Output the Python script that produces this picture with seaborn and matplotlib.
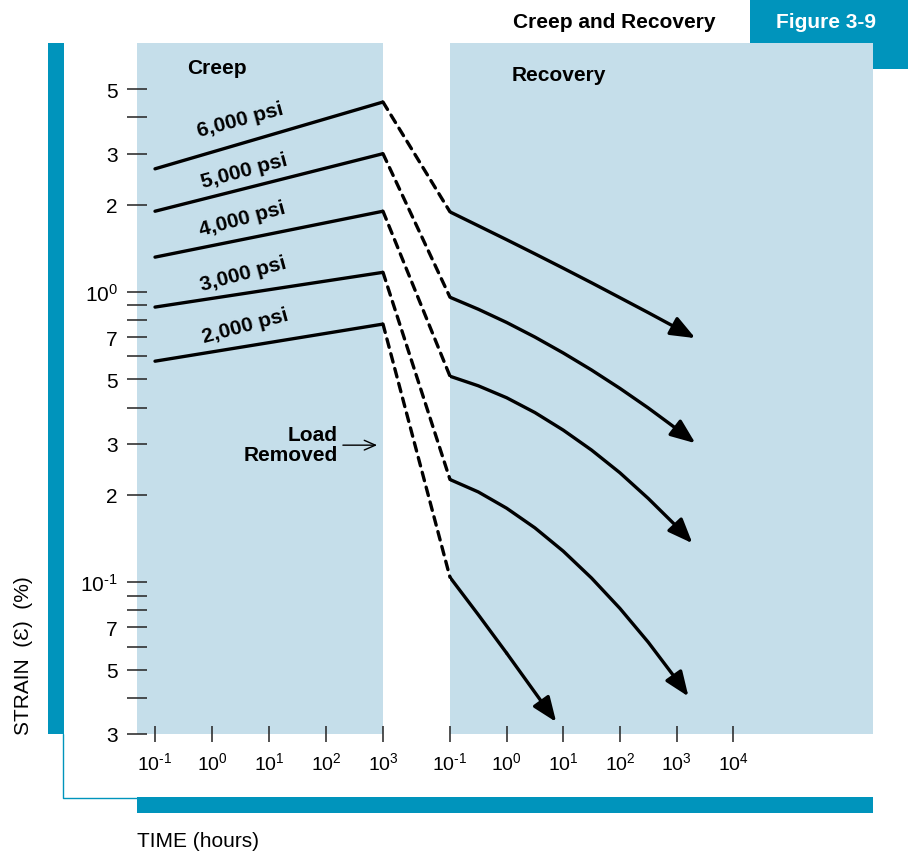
import numpy as np
import matplotlib
matplotlib.use("Agg")
import matplotlib.pyplot as plt
import seaborn as sns
from matplotlib.patches import Rectangle, ConnectionPatch
from matplotlib.lines import Line2D

# ---------------- data ----------------
stress_labels = ["2,000 psi", "3,000 psi", "4,000 psi", "5,000 psi", "6,000 psi"]
creep_t = [0.1, 1000]
creep_start = [0.578, 0.888, 1.32, 1.90, 2.66]
creep_end = [0.776, 1.17, 1.90, 3.00, 4.52]

rec_t_6000 = [0.1, 0.316, 1, 3.16, 10, 31.6, 100, 316, 1000, 2150]
rec_s_6000 = [1.89, 1.693, 1.516, 1.355, 1.209, 1.077, 0.957, 0.850, 0.753, 0.694]
rec_t_5000 = [0.1, 0.316, 1, 3.16, 10, 31.6, 100, 316, 1000, 2150]
rec_s_5000 = [0.96, 0.873, 0.786, 0.700, 0.617, 0.539, 0.466, 0.399, 0.338, 0.3015]
rec_t_4000 = [0.1, 0.316, 1, 3.16, 10, 31.6, 100, 316, 1000, 1910]
rec_s_4000 = [0.513, 0.4755, 0.4325, 0.3845, 0.3345, 0.2855, 0.2385, 0.1946, 0.1559, 0.1363]
rec_t_3000 = [0.1, 0.316, 1, 3.16, 10, 31.6, 100, 316, 1000, 1625]
rec_s_3000 = [0.226, 0.2048, 0.1800, 0.1540, 0.1280, 0.1034, 0.0813, 0.0622, 0.0462, 0.0404]
rec_t_2000 = [0.1, 0.316, 1, 7.5]
rec_s_2000 = [0.104, 0.0773, 0.057, 0.033]

ytick_vals = [0.03, 0.04, 0.05, 0.06, 0.07, 0.08, 0.09, 0.1, 0.2, 0.3, 0.4,
              0.5, 0.6, 0.7, 0.8, 0.9, 1, 2, 3, 4, 5]
ytick_labels = ["3", "", "5", "", "7", "", "", r"10$^{\text{-}1}$", "2", "3", "",
                "5", "", "7", "", "", "10$^{0}$", "2", "3", "", "5"]
xticks_creep = [0.1, 1, 10, 100, 1000]
xticks_rec = [0.1, 1, 10, 100, 1000, 10000]
xtick_labels_creep = [r"10$^{\text{-}1}$", "10$^{0}$", "10$^{1}$", "10$^{2}$", "10$^{3}$"]
xtick_labels_rec = [r"10$^{\text{-}1}$", "10$^{0}$", "10$^{1}$", "10$^{2}$", "10$^{3}$", "10$^{4}$"]

# ---------------- style ----------------
sns.set_style("white")
plt.rcParams["font.family"] = ["Liberation Sans", "DejaVu Sans"]
plt.rcParams["mathtext.fontset"] = "custom"
plt.rcParams["mathtext.rm"] = "Liberation Sans"
plt.rcParams["mathtext.it"] = "Liberation Sans:italic"
plt.rcParams["mathtext.bf"] = "Liberation Sans:bold"
for k in ["text.color", "axes.labelcolor", "xtick.color", "ytick.color"]:
    plt.rcParams[k] = "black"

SHADE = "#c5deea"
BLUE = "#0094bc"
W, H = 908, 853
fig = plt.figure(figsize=(W / 100, H / 100), dpi=100)

def fx(px):
    return px / W

def fy(py):
    return (H - py) / H

ax1 = fig.add_axes([fx(137), fy(735), fx(383) - fx(137), fy(44) - fy(735)])
ax2 = fig.add_axes([fx(450), fy(735), fx(873) - fx(450), fy(44) - fy(735)])

for ax in (ax1, ax2):
    ax.set_facecolor(SHADE)
    ax.set_xscale("log")
    ax.set_yscale("log")
    ax.set_ylim(0.03, 7.22)
    for s in ax.spines.values():
        s.set_visible(False)
    ax.minorticks_off()

ax1.set_xlim(10 ** -1.316, 1000)
ax2.set_xlim(0.1, 10 ** 6.47)

LW = 2.4
for s0, s1 in zip(creep_start, creep_end):
    sns.lineplot(x=creep_t, y=[s0, s1], ax=ax1, color="black", lw=LW,
                 estimator=None, sort=False, legend=False)

rec_sets = [(rec_t_2000, rec_s_2000), (rec_t_3000, rec_s_3000),
            (rec_t_4000, rec_s_4000), (rec_t_5000, rec_s_5000),
            (rec_t_6000, rec_s_6000)]
for t, s in rec_sets:
    sns.lineplot(x=t[:-1], y=s[:-1], ax=ax2, color="black", lw=LW,
                 estimator=None, sort=False, legend=False)
    ax2.lines[-1].set_solid_joinstyle("round")
    ax2.annotate("", xy=(t[-1], s[-1]), xytext=(t[-2], s[-2]),
                 arrowprops=dict(arrowstyle="-|>,head_length=1.5,head_width=0.6",
                                 mutation_scale=10, lw=LW, color="black",
                                 shrinkA=0, shrinkB=0))

for i, (t, s) in enumerate(rec_sets):
    con = ConnectionPatch(xyA=(creep_t[-1], creep_end[i]), coordsA="data", axesA=ax1,
                          xyB=(t[0], s[0]), coordsB="data", axesB=ax2,
                          color="black", lw=LW, linestyle=(0, (2.6, 2.0)))
    fig.add_artist(con)

ax1.set_yticks(ytick_vals)
ax1.set_yticklabels(ytick_labels)
ax1.tick_params(axis="y", which="major", direction="inout", length=14.4, width=1.1,
                color="#222222", labelsize=15, pad=6.5, left=True)
ax2.set_yticks([])
ax1.set_xticks(xticks_creep)
ax1.set_xticklabels(xtick_labels_creep)
ax2.set_xticks(xticks_rec)
ax2.set_xticklabels(xtick_labels_rec)
for ax in (ax1, ax2):
    ax.tick_params(axis="x", which="major", direction="inout", length=12.2, width=1.1,
                   color="#222222", labelsize=14, pad=6, bottom=True)
    ax.tick_params(which="minor", length=0)

label_pos = [(0.439, 0.591), (0.431, 0.666), (0.427, 0.746), (0.435, 0.815), (0.419, 0.890)]
for lab, (px, py) in zip(stress_labels, label_pos):
    ax1.text(px, py, lab, transform=ax1.transAxes, rotation=15, rotation_mode="anchor",
             ha="center", va="center", fontsize=15, fontweight="bold")

ax1.text(0.325, 0.965, "Creep", transform=ax1.transAxes, ha="center", va="center",
         fontsize=15, fontweight="bold")
ax2.text(0.258, 0.955, "Recovery", transform=ax2.transAxes, ha="center", va="center",
         fontsize=15, fontweight="bold")
ax1.text(0.817, 0.419, "Load\nRemoved", transform=ax1.transAxes, ha="right", va="center",
         fontsize=15, fontweight="bold", linespacing=1.12)
ax1.annotate("", xy=(0.976, 0.418), xytext=(0.837, 0.418), xycoords="axes fraction",
             textcoords="axes fraction",
             arrowprops=dict(arrowstyle="->,head_length=0.8,head_width=0.35",
                             lw=1.0, color="black", shrinkA=0, shrinkB=0))

fig.add_artist(Rectangle((fx(750), fy(70)), fx(908) - fx(750), fy(0) - fy(70),
                         transform=fig.transFigure, facecolor=BLUE, edgecolor="none",
                         zorder=-1))
fig.add_artist(Rectangle((fx(48), fy(735)), fx(64) - fx(48), fy(44) - fy(735),
                         transform=fig.transFigure, facecolor=BLUE, edgecolor="none"))
fig.add_artist(Rectangle((fx(137), fy(814)), fx(873) - fx(137), fy(798) - fy(814),
                         transform=fig.transFigure, facecolor=BLUE, edgecolor="none"))
fig.add_artist(Line2D([fx(63), fx(63), fx(137)], [fy(735), fy(799), fy(799)],
                      transform=fig.transFigure, color=BLUE, lw=1.0))

fig.text(fx(614.5), fy(22), "Creep and Recovery", ha="center", va="center",
         fontsize=15, fontweight="bold")
fig.text(fx(826), fy(22), "Figure 3-9", ha="center", va="center",
         fontsize=15, fontweight="bold", color="white")
fig.text(fx(24), fy(735), "STRAIN  (Ɛ)  (%)", rotation=90, ha="center", va="bottom",
         fontsize=15)
fig.text(fx(137), fy(842), "TIME (hours)", ha="left", va="center", fontsize=15)

fig.savefig("out.png", dpi=100)
